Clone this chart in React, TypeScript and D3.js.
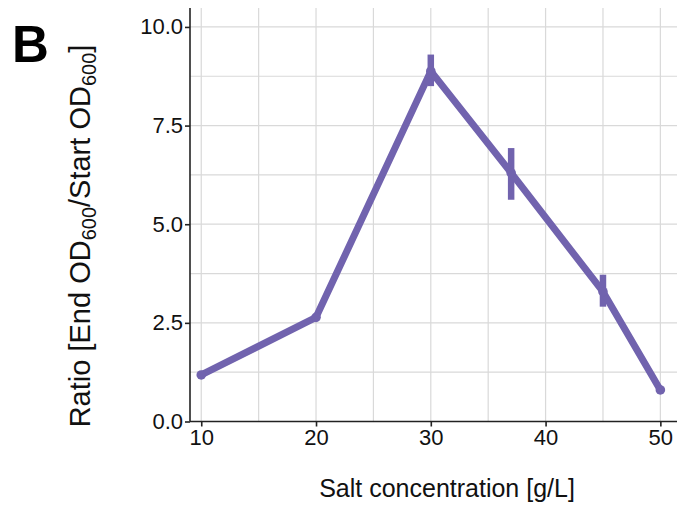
import React, { useRef, useEffect } from "react";
import { select, line, scaleLinear, axisBottom, axisLeft, range } from "d3";

// salt concentration (g/L) and growth ratio
const salt = [10, 20, 30, 37, 45, 50];
const ratio = [1.18, 2.64, 8.88, 6.3, 3.29, 0.8];
const errLow = [1.15, 2.6, 8.5, 5.62, 2.91, 0.76];
const errHigh = [1.21, 2.68, 9.3, 6.93, 3.72, 0.84];
const xTicks = [10, 20, 30, 40, 50];
const yTicks = [0, 2.5, 5, 7.5, 10];

const W = 679;
const H = 508;
const COLOR = "#7163ae";
const FONT = "Liberation Sans, Arial, sans-serif";

const Chart = () => {
  const svgRef = useRef<SVGSVGElement>(null);

  useEffect(() => {
    const svg = select(svgRef.current);
    svg.selectAll("*").remove();

    const left = 190;
    const right = 677;
    const top = 8;
    const bottom = 421.5;

    // x spans a bit past 10 and 50, like the original padding
    const x = scaleLinear().domain([9.02, 51.45]).range([left, right]);
    const y = scaleLinear().domain([0, 10.48]).range([bottom, top]);

    const grid = svg.append("g");
    // minor + major grid lines
    const xGrid = range(10, 51, 5);
    const yGrid = range(0, 10.5, 1.25);
    grid
      .selectAll(".vg")
      .data(xGrid)
      .join("line")
      .attr("x1", (d) => x(d))
      .attr("x2", (d) => x(d))
      .attr("y1", top)
      .attr("y2", bottom)
      .attr("stroke", "#d9d9d9")
      .attr("stroke-width", 1.2);
    grid
      .selectAll(".hg")
      .data(yGrid)
      .join("line")
      .attr("x1", left)
      .attr("x2", right)
      .attr("y1", (d) => y(d))
      .attr("y2", (d) => y(d))
      .attr("stroke", "#d9d9d9")
      .attr("stroke-width", 1.2);

    // axes
    const xAxis = axisBottom(x).tickValues(xTicks).tickSize(5).tickPadding(3);
    const gx = svg
      .append("g")
      .attr("transform", `translate(0,${bottom})`)
      .call(xAxis);
    const yAxis = axisLeft(y)
      .tickValues(yTicks)
      .tickSize(5)
      .tickPadding(2)
      .tickFormat((d) => (d as number).toFixed(1));
    const gy = svg.append("g").attr("transform", `translate(${left},0)`).call(yAxis);

    [gx, gy].forEach((g) => {
      g.select(".domain").attr("stroke", "#222").attr("stroke-width", 1.6);
      g.selectAll(".tick line").attr("stroke", "#222").attr("stroke-width", 1.6);
      g.selectAll(".tick text")
        .attr("fill", "#111")
        .style("font-family", FONT)
        .style("font-size", "22px");
    });
    gx.select(".domain").attr("d", `M${left},0H${right}`);
    gy.select(".domain").attr("d", `M0,${bottom}V${top}`);

    // error bars (no caps)
    svg
      .selectAll(".err")
      .data(salt)
      .join("line")
      .attr("x1", (d) => x(d))
      .attr("x2", (d) => x(d))
      .attr("y1", (d, i) => y(errLow[i]))
      .attr("y2", (d, i) => y(errHigh[i]))
      .attr("stroke", COLOR)
      .attr("stroke-width", 6.5);

    const path = line<number>()
      .x((d) => x(d))
      .y((d, i) => y(ratio[i]));

    svg
      .append("path")
      .datum(salt)
      .attr("d", path)
      .attr("fill", "none")
      .attr("stroke", COLOR)
      .attr("stroke-width", 7)
      .attr("stroke-linejoin", "round");

    svg
      .selectAll(".pt")
      .data(salt)
      .join("circle")
      .attr("cx", (d) => x(d))
      .attr("cy", (d, i) => y(ratio[i]))
      .attr("r", 4.8)
      .attr("fill", COLOR);
  }, []);

  return (
    <svg
      ref={svgRef}
      width={W}
      height={H}
      style={{ position: "absolute", left: 0, top: 0, background: "#fff" }}
    />
  );
};

const Labels = () => (
  <svg
    width={W}
    height={H}
    style={{ position: "absolute", left: 0, top: 0, pointerEvents: "none" }}
  >
    <text x={12} y={62} fontFamily={FONT} fontWeight="bold" fontSize={51} fill="#000">
      B
    </text>
    <text x={447} y={497} textAnchor="middle" fontFamily={FONT} fontSize={25} fill="#111">
      Salt concentration [g/L]
    </text>
    <text
      transform="translate(90,236) rotate(-90)"
      textAnchor="middle"
      fontFamily={FONT}
      fontSize={29}
      fill="#111"
    >
      Ratio [End OD
      <tspan fontSize={20} dy={6}>600</tspan>
      <tspan dy={-6}>/Start OD</tspan>
      <tspan fontSize={20} dy={6}>600</tspan>
      <tspan dy={-6}>]</tspan>
    </text>
  </svg>
);

const App = () => (
  <div style={{ position: "absolute", left: 0, top: 0, width: W, height: H }}>
    <Chart />
    <Labels />
  </div>
);

export default App;
